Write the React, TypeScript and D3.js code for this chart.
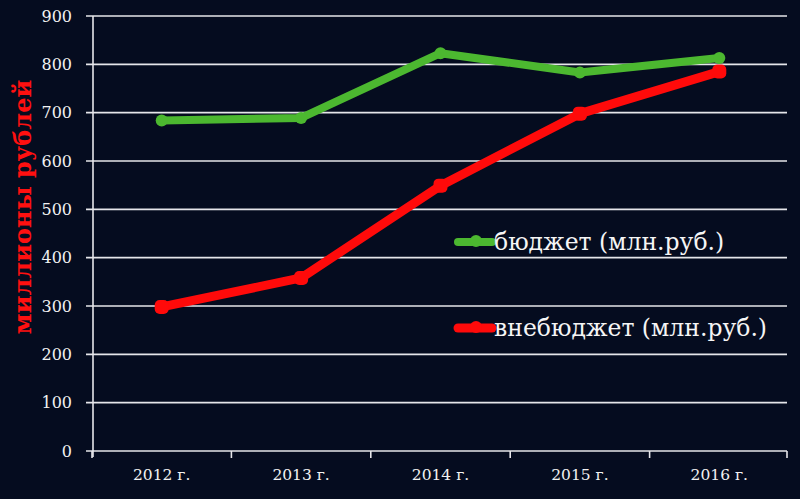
import * as d3 from 'd3';
import { useEffect, useRef } from 'react';

const years = ['2012 г.', '2013 г.', '2014 г.', '2015 г.', '2016 г.'];
const budget = [684, 689, 823, 783, 813];
const offBudget = [298, 358, 549, 698, 785];
const yTicks = [0, 100, 200, 300, 400, 500, 600, 700, 800, 900];

const width = 800;
const height = 499;
const marginTop = 16;
const marginRight = 11;
const marginBottom = 48;
const marginLeft = 92;

export default function App() {
  const svgRef = useRef(null);

  useEffect(() => {
    const svg = d3.select(svgRef.current);
    svg.selectAll('*').remove();

    const x = d3
      .scaleBand()
      .domain(years)
      .range([marginLeft, width - marginRight]);
    const y = d3
      .scaleLinear()
      .domain([0, 900])
      .range([height - marginBottom, marginTop]);

    svg.append('rect').attr('width', width).attr('height', height).attr('fill', '#050c1f');

    // grid + y axis labels
    const gy = svg.append('g');
    gy.selectAll('line')
      .data(yTicks)
      .join('line')
      .attr('x1', marginLeft - 6)
      .attr('x2', width - marginRight - 2)
      .attr('y1', (d) => y(d))
      .attr('y2', (d) => y(d))
      .attr('stroke', '#e6e6ea')
      .attr('stroke-width', 1.6);
    gy.selectAll('text')
      .data(yTicks)
      .join('text')
      .attr('x', 72)
      .attr('y', (d) => y(d))
      .attr('dy', '0.35em')
      .attr('text-anchor', 'end')
      .attr('fill', '#f2f2f2')
      .attr('font-family', '"DejaVu Serif", serif')
      .attr('font-size', 16)
      .text((d) => d);

    // y axis line
    svg
      .append('line')
      .attr('x1', marginLeft + 1)
      .attr('x2', marginLeft + 1)
      .attr('y1', marginTop)
      .attr('y2', height - marginBottom + 6)
      .attr('stroke', '#e6e6ea')
      .attr('stroke-width', 1.6);

    // x axis ticks
    const bounds = years.map((d) => x(d)).concat([width - marginRight - 2]);
    svg
      .append('g')
      .selectAll('line')
      .data(bounds)
      .join('line')
      .attr('x1', (d) => d)
      .attr('x2', (d) => d)
      .attr('y1', y(0))
      .attr('y2', y(0) + 7)
      .attr('stroke', '#e6e6ea')
      .attr('stroke-width', 1.6);
    svg
      .append('g')
      .selectAll('text')
      .data(years)
      .join('text')
      .attr('x', (d) => x(d) + x.bandwidth() / 2)
      .attr('y', height - 19)
      .attr('text-anchor', 'middle')
      .attr('fill', '#f2f2f2')
      .attr('font-family', '"DejaVu Serif", serif')
      .attr('font-size', 15.5)
      .text((d) => d);

    const cx = (i) => x(years[i]) + x.bandwidth() / 2;
    const line = d3
      .line()
      .x((d, i) => cx(i))
      .y((d) => y(d));

    // green series
    svg
      .append('path')
      .datum(budget)
      .attr('fill', 'none')
      .attr('stroke', '#4cb830')
      .attr('stroke-width', 8)
      .attr('stroke-linejoin', 'round')
      .attr('d', line);
    svg
      .append('g')
      .selectAll('circle')
      .data(budget)
      .join('circle')
      .attr('cx', (d, i) => cx(i))
      .attr('cy', (d) => y(d))
      .attr('r', 6)
      .attr('fill', '#4cb830');

    // red series
    svg
      .append('path')
      .datum(offBudget)
      .attr('fill', 'none')
      .attr('stroke', '#ff0a0a')
      .attr('stroke-width', 9)
      .attr('stroke-linejoin', 'round')
      .attr('d', line);
    svg
      .append('g')
      .selectAll('rect')
      .data(offBudget)
      .join('rect')
      .attr('x', (d, i) => cx(i) - 7)
      .attr('y', (d) => y(d) - 7)
      .attr('width', 14)
      .attr('height', 14)
      .attr('rx', 5)
      .attr('fill', '#ff0a0a');

    // legend
    const legend = [
      { label: 'бюджет (млн.руб.)', color: '#4cb830', y: 242, w: 8 },
      { label: 'внебюджет (млн.руб.)', color: '#ff0a0a', y: 328, w: 9 }
    ];
    const lg = svg.append('g');
    legend.forEach((l) => {
      lg.append('line')
        .attr('x1', 458)
        .attr('x2', 492)
        .attr('y1', l.y)
        .attr('y2', l.y)
        .attr('stroke', l.color)
        .attr('stroke-width', l.w)
        .attr('stroke-linecap', 'round');
      lg.append('circle').attr('cx', 476).attr('cy', l.y - 1).attr('r', 6).attr('fill', l.color);
      lg.append('text')
        .attr('x', 494)
        .attr('y', l.y + 8)
        .attr('fill', '#f5f5f5')
        .attr('font-family', '"DejaVu Serif", serif')
        .attr('font-size', 23.5)
        .text(l.label);
    });

    // y title
    svg
      .append('text')
      .attr('transform', 'translate(31,207) rotate(-90)')
      .attr('text-anchor', 'middle')
      .attr('fill', '#ff1010')
      .attr('font-family', '"DejaVu Serif", serif')
      .attr('font-weight', 'bold')
      .attr('font-size', 24)
      .text('миллионы рублей');
  }, []);

  return (
    <svg
      ref={svgRef}
      width={width}
      height={height}
      style={{ position: 'absolute', top: 0, left: 0, display: 'block' }}
    ></svg>
  );
}
